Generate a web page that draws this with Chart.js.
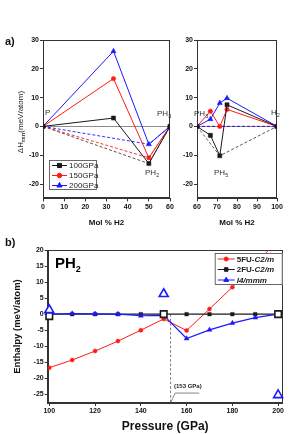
<!DOCTYPE html>
<html>
<head>
<meta charset="utf-8">
<script src="https://cdn.jsdelivr.net/npm/chart.js@4.4.0/dist/chart.umd.min.js"></script>
<style>
  body { margin: 0; background: #fff; font-family: 'Liberation Sans', Arial, sans-serif; }
  #fig { position: relative; width: 291px; height: 434px; overflow: hidden; }
  #fig canvas { position: absolute; }
  .lbl { position: absolute; font-size: 8px; line-height: 8px; color: #333; white-space: nowrap; }
  .lbl sub { font-size: 5.5px; vertical-align: -2px; line-height: 0; }
  .tag { position: absolute; font-size: 11px; font-weight: bold; color: #111; }
  .ytitle { position: absolute; font-size: 8px; color: #222; white-space: nowrap;
            transform: translate(-50%, -50%) rotate(-90deg); }
  .ytitle sub { font-size: 6px; font-weight: bold; vertical-align: -2px; line-height: 0; }
</style>
</head>
<body>
<div id="fig">
  <canvas id="chart-a-left" width="175" height="232" style="left:0;top:0"></canvas>
  <canvas id="chart-a-right" width="115" height="232" style="left:170px;top:0"></canvas>
  <canvas id="chart-b" width="291" height="204" style="left:0;top:230px"></canvas>

  <div class="tag" style="left:5px;top:35px">a)</div>
  <div class="tag" style="left:5px;top:236px">b)</div>
  <div class="ytitle" style="left:20px;top:122px">&Delta;H<sub>rxn</sub>(meV/atom)</div>

  <div class="lbl" style="left:45px;top:109px">P</div>
  <div class="lbl" style="left:145px;top:169px">PH<sub>2</sub></div>
  <div class="lbl" style="left:157px;top:110px">PH<sub>3</sub></div>
  <div class="lbl" style="left:194px;top:110px">PH<sub>3</sub></div>
  <div class="lbl" style="left:214px;top:169px">PH<sub>5</sub></div>
  <div class="lbl" style="left:271px;top:109px">H<sub>2</sub></div>

  <div class="lbl" style="left:55px;top:255px;font-size:15px;line-height:15px;font-weight:bold;color:#000">PH<sub style="font-size:9px;vertical-align:-4px">2</sub></div>
  <div class="lbl" style="left:174px;top:383px;font-size:6px;line-height:6px;font-weight:bold;color:#222">(153 GPa)</div>
</div>

<script>
/* ---------- panel a: formation enthalpy vs mol % H2 ---------- */
const pressureLabels = ['100GPa', '150GPa', '200GPa'];

const molLeft = [0, 33.3, 50, 60];
const left100 = [0, 2.9, -12.9, 0];
const left150 = [0, 16.6, -10.9, 0];
const left200 = [0, 26.1, -6.2, 0];
const hullLeftMol = [0, 50, 60];
const hullLeft100 = [0, -12.9, 0];
const hullLeft150 = [0, -10.9, 0];
const hullLeft200 = [0, -6.2, 0];

const molRight = [60, 66.7, 71.4, 75, 100];
const right100 = [0, -3.1, -10.2, 7.5, 0];
const right150 = [0, 5.3, 0, 5.9, 0];
const right200 = [0, 2.5, 8.1, 9.8, 0];
const hullRight100Mol = [60, 71.4, 100];
const hullRight100 = [0, -10.2, 0];
const hullRightMol = [60, 100];
const hullRightFlat = [0, 0];

const yTicksA = [-20, -10, 0, 10, 20, 30];
const xTicksLeft = [0, 10, 20, 30, 40, 50, 60];
const xTicksRight = [60, 70, 80, 90, 100];

/* ---------- panel b: PH2 enthalpy vs pressure ---------- */
const pressureGPa = [100, 110, 120, 130, 140, 150, 160, 170, 180, 190, 200];
const fu5C2m = [-16.7, -14.3, -11.5, -8.4, -5.0, -1.5, -5.1, 1.6, 8.4, 15.7, 23];
const fu2C2m = [0, 0, 0, 0, 0, 0, 0, 0, 0, 0, 0];
const i4mmm = [0, 0.2, 0.1, 0, -0.5, -0.4, -7.6, -4.9, -2.8, -1.1, 0];
const refPressure = [100, 150, 200];
const refSquares = [-0.6, 0, 0];
const refTriangles = [1.3, 6.3, -25.2];
const crossPressure = 153;
const leaderPressure = [153, 155, 165.5];
const leaderEnthalpy = [-27.7, -24.6, -24.6];
const yTicksB = [-25, -20, -15, -10, -5, 0, 5, 10, 15, 20];
const xTicksB = [100, 120, 140, 160, 180, 200];

const FONT = "'Liberation Sans', Arial, sans-serif";
const INK = '#111';
const AXIS = '#333';
const RED = '#ff1a1a';
const BLUE = '#1a1aff';
const BLACK = '#1a1a1a';
const tickFont = { family: FONT, size: 7, weight: 'bold' };

function pts(xs, ys) { return xs.map((x, i) => ({ x: x, y: ys[i] })); }
function fixTicks(list) { return s => { s.ticks = list.map(v => ({ value: v })); }; }

function solid(label, xs, ys, color, style, r) {
    return {
        label: label, data: pts(xs, ys), borderColor: color, backgroundColor: color,
        borderWidth: 1, pointStyle: style, pointRadius: r, pointHoverRadius: r,
        pointBorderWidth: 0.5, inLegend: true
    };
}
function dashed(xs, ys, color) {
    return {
        data: pts(xs, ys), borderColor: color, borderWidth: 0.9, borderDash: [3, 2],
        pointRadius: 0, pointHoverRadius: 0
    };
}

// box around the plot area (Origin style)
const frame = {
    id: 'frame',
    beforeDatasetsDraw(chart) {
        const { ctx, chartArea: a } = chart;
        ctx.save();
        ctx.strokeStyle = AXIS;
        ctx.lineWidth = 1;
        ctx.strokeRect(Math.round(a.left) + 0.5, Math.round(a.top) + 0.5,
            Math.round(a.right - a.left) - 1, Math.round(a.bottom - a.top) - 1);
        ctx.restore();
    }
};

// boxed legend with line + marker samples, drawn inside the plot area
const boxLegend = {
    id: 'boxLegend',
    afterDraw(chart, args, opts) {
        if (!opts.width) return;
        const { ctx, chartArea: a } = chart;
        let items = chart.data.datasets.filter(d => d.inLegend);
        if (opts.reverse) items = items.slice().reverse();
        const x = opts.right ? a.right - opts.width : a.left + opts.dx;
        const y = opts.right ? a.top + opts.dy : a.bottom - opts.dy - opts.height;
        ctx.save();
        ctx.fillStyle = '#fff';
        ctx.fillRect(x, y, opts.width, opts.height);
        ctx.strokeStyle = '#444';
        ctx.lineWidth = 0.8;
        ctx.strokeRect(x + 0.5, y + 0.5, opts.width - 1, opts.height - 1);
        items.forEach((d, i) => {
            const ry = y + opts.first + i * opts.step;
            ctx.strokeStyle = d.borderColor;
            ctx.lineWidth = 1;
            ctx.beginPath();
            ctx.moveTo(x + 3, ry);
            ctx.lineTo(x + opts.lineLen, ry);
            ctx.stroke();
            ctx.fillStyle = d.backgroundColor;
            Chart.helpers.drawPoint(ctx, { pointStyle: d.pointStyle, radius: d.pointRadius, borderWidth: 0.5, rotation: 0 },
                x + 3 + (opts.lineLen - 3) / 2, ry);
            ctx.fillStyle = '#222';
            ctx.textBaseline = 'middle';
            let tx = x + opts.lineLen + 2;
            (d.legendParts || [[d.label, false]]).forEach(([txt, italic]) => {
                ctx.font = (italic ? 'italic ' : '') + opts.weight + ' ' + opts.size + 'px ' + FONT;
                ctx.fillText(txt, tx, ry + 0.5);
                tx += ctx.measureText(txt).width;
            });
        });
        ctx.restore();
    }
};

function scalesA(xMin, xMax, xTicks, yWidth) {
    return {
        x: {
            type: 'linear', min: xMin, max: xMax, afterBuildTicks: fixTicks(xTicks),
            afterFit: s => { s.height = 33.6; s.paddingLeft = 0; s.paddingRight = 0; },
            ticks: { font: tickFont, color: INK, padding: 1, maxRotation: 0, autoSkip: false },
            grid: { drawOnChartArea: false, tickLength: 3, tickColor: AXIS },
            border: { color: AXIS },
            title: { display: true, text: 'Mol % H2', color: INK,
                font: { family: FONT, size: 8, weight: 'bold' }, padding: { top: 0, bottom: 4 } }
        },
        y: {
            min: -25, max: 30, afterBuildTicks: fixTicks(yTicksA),
            afterFit: s => { s.width = yWidth; s.paddingTop = 0; s.paddingBottom = 0; },
            ticks: { font: tickFont, color: INK, padding: 1, autoSkip: false },
            grid: {
                color: c => (c.tick && c.tick.value === 0) ? '#8c8c8c' : 'rgba(0,0,0,0)',
                tickColor: AXIS, tickLength: 3
            },
            border: { color: AXIS }
        }
    };
}

const commonOpts = {
    responsive: false,
    animation: false,
    devicePixelRatio: 1,
    events: [],
    elements: { line: { tension: 0 } }
};

new Chart(document.getElementById('chart-a-left'), {
    type: 'line',
    data: {
        datasets: [
            solid(pressureLabels[0], molLeft, left100, BLACK, 'rect', 2.9),
            solid(pressureLabels[1], molLeft, left150, RED, 'circle', 2.2),
            solid(pressureLabels[2], molLeft, left200, BLUE, 'triangle', 3),
            dashed(hullLeftMol, hullLeft200, BLUE),
            dashed(hullLeftMol, hullLeft150, RED),
            dashed(hullLeftMol, hullLeft100, '#444')
        ]
    },
    options: {
        ...commonOpts,
        layout: { padding: { top: 40, right: 5, left: 0, bottom: 0 } },
        scales: scalesA(0, 60, xTicksLeft, 43),
        plugins: {
            legend: { display: false }, tooltip: { enabled: false },
            boxLegend: { dx: 6, dy: 8.4, width: 48, height: 30, first: 5.5, step: 10,
                lineLen: 18, size: 8, weight: 'normal' }
        }
    },
    plugins: [frame, boxLegend]
});

new Chart(document.getElementById('chart-a-right'), {
    type: 'line',
    data: {
        datasets: [
            solid(pressureLabels[0], molRight, right100, BLACK, 'rect', 2.9),
            solid(pressureLabels[1], molRight, right150, RED, 'circle', 2.2),
            solid(pressureLabels[2], molRight, right200, BLUE, 'triangle', 3),
            dashed(hullRightMol, hullRightFlat, BLUE),
            dashed(hullRightMol, hullRightFlat, RED),
            dashed(hullRight100Mol, hullRight100, '#444')
        ]
    },
    options: {
        ...commonOpts,
        layout: { padding: { top: 40, right: 8, left: 0, bottom: 0 } },
        scales: scalesA(60, 100, xTicksRight, 27),
        plugins: { legend: { display: false }, tooltip: { enabled: false } }
    },
    plugins: [frame]
});

function bigMarker(ys, style, color, r) {
    return {
        data: pts(refPressure, ys), showLine: false, pointStyle: style, pointRadius: r,
        pointHoverRadius: r, pointBorderWidth: 1.6, borderColor: color,
        pointBackgroundColor: '#fff', clip: false
    };
}

// drawn top-down: first dataset ends up on top
const bSeries = [
    Object.assign(solid('I4/mmm', pressureGPa, i4mmm, BLUE, 'triangle', 2.8),
        { legendParts: [['I4/mmm', true]], borderWidth: 1.2 }),
    Object.assign(solid('2FU-C2/m', pressureGPa, fu2C2m, BLACK, 'rect', 2.5),
        { legendParts: [['2FU-', false], ['C2/m', true]], borderWidth: 1.2 }),
    Object.assign(solid('5FU-C2/m', pressureGPa, fu5C2m, RED, 'circle', 2),
        { legendParts: [['5FU-', false], ['C2/m', true]], borderWidth: 1 })
];

new Chart(document.getElementById('chart-b'), {
    type: 'line',
    data: {
        datasets: [
            bigMarker(refTriangles, 'triangle', BLUE, 5.2),
            bigMarker(refSquares, 'rect', BLACK, 4.6),
            ...bSeries,
            { data: pts([crossPressure, crossPressure], [0, -27.7]), borderColor: '#555',
              borderWidth: 0.8, borderDash: [2.5, 2], pointRadius: 0 },
            { data: pts(leaderPressure, leaderEnthalpy), borderColor: '#555',
              borderWidth: 0.7, pointRadius: 0, clip: false }
        ]
    },
    options: {
        ...commonOpts,
        layout: { padding: { top: 20, right: 8.3, left: 0, bottom: 0 } },
        scales: {
            x: {
                type: 'linear', min: 99.3, max: 202, afterBuildTicks: fixTicks(xTicksB),
                afterFit: s => { s.height = 31; s.paddingLeft = 0; s.paddingRight = 0; },
                ticks: { font: tickFont, color: INK, padding: 1, maxRotation: 0, autoSkip: false },
                grid: { drawOnChartArea: false, tickLength: 3, tickColor: AXIS },
                border: { color: AXIS },
                title: { display: true, text: 'Pressure (GPa)', color: INK,
                    font: { family: FONT, size: 12, weight: 'bold' }, padding: { top: 0, bottom: 0 } }
            },
            y: {
                min: -27.7, max: 20, afterBuildTicks: fixTicks(yTicksB),
                afterFit: s => { s.width = 47.7; s.paddingTop = 0; s.paddingBottom = 0; },
                ticks: { font: tickFont, color: INK, padding: 1, autoSkip: false },
                grid: { drawOnChartArea: false, tickLength: 3, tickColor: AXIS },
                border: { color: AXIS },
                title: { display: true, text: 'Enthalpy (meV/atom)', color: INK,
                    font: { family: FONT, size: 9.5, weight: 'bold' }, padding: { top: 12, bottom: 0 } }
            }
        },
        plugins: {
            legend: { display: false }, tooltip: { enabled: false },
            boxLegend: { right: true, reverse: true, dy: 3, width: 68, height: 32, first: 6, step: 10.5,
                lineLen: 20, size: 8, weight: 'bold' }
        }
    },
    plugins: [frame, boxLegend]
});
</script>
</body>
</html>
